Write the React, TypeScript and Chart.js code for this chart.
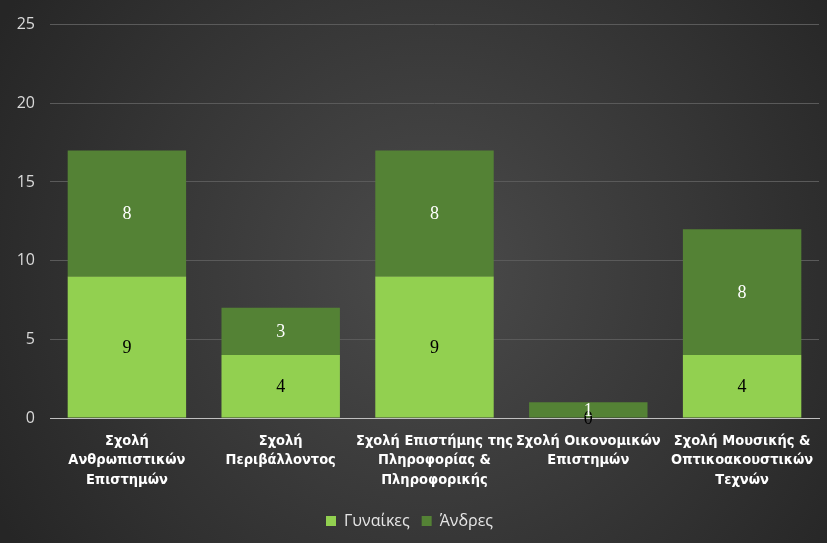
import React, { useEffect, useRef } from "react";
import { Chart, registerables } from "chart.js";

Chart.register(...registerables);

const categories: string[][] = [
  ["Σχολή", "Ανθρωπιστικών", "Επιστημών"],
  ["Σχολή", "Περιβάλλοντος"],
  ["Σχολή Επιστήμης της", "Πληροφορίας &", "Πληροφορικής"],
  ["Σχολή Οικονομικών", "Επιστημών"],
  ["Σχολή Μουσικής &", "Οπτικοακουστικών", "Τεχνών"],
];
const women: number[] = [9, 4, 9, 0, 4];
const men: number[] = [8, 3, 8, 1, 8];
const seriesNames = ["Γυναίκες", "Άνδρες"];
const yTicks: number[] = [0, 5, 10, 15, 20, 25];

const bgPlugin = {
  id: "bg",
  beforeDraw(chart: any) {
    const { ctx, width, height } = chart;
    ctx.save();
    const g = ctx.createRadialGradient(width * 0.52, height * 0.5, 0, width * 0.52, height * 0.5, width * 0.6);
    g.addColorStop(0, "#4b4b4b");
    g.addColorStop(1, "#262626");
    ctx.fillStyle = g;
    ctx.fillRect(0, 0, width, height);
    ctx.restore();
  },
};

const labelPlugin = {
  id: "barLabels",
  afterDatasetsDraw(chart: any) {
    const { ctx } = chart;
    ctx.save();
    ctx.font = '18px "Liberation Serif", "DejaVu Serif", serif';
    ctx.textAlign = "center";
    ctx.textBaseline = "middle";
    chart.data.datasets.forEach((ds: any, di: number) => {
      const meta = chart.getDatasetMeta(di);
      meta.data.forEach((bar: any, i: number) => {
        const v = ds.data[i];
        const y = (bar.y + bar.base) / 2;
        ctx.fillStyle = di === 0 ? "#000000" : "#ffffff";
        ctx.fillText(String(v), bar.x, y + 1);
      });
    });
    ctx.restore();
  },
};

export default function App() {
  const ref = useRef<HTMLCanvasElement>(null);
  useEffect(() => {
    if (!ref.current) return;
    const chart = new Chart(ref.current, {
      type: "bar",
      data: {
        labels: categories,
        datasets: [
          { label: seriesNames[0], data: women, backgroundColor: "#92d050", categoryPercentage: 0.77, barPercentage: 1 },
          { label: seriesNames[1], data: men, backgroundColor: "#548235", categoryPercentage: 0.77, barPercentage: 1 },
        ],
      },
      options: {
        responsive: false,
        animation: false,
        layout: { padding: { top: 15, right: 8, bottom: 4, left: 0 } },
        plugins: {
          tooltip: { enabled: false },
          legend: {
            position: "bottom",
            labels: {
              color: "#e6e6e6",
              boxWidth: 10,
              boxHeight: 10,
              padding: 12,
              font: { family: '"Open Sans", "Noto Sans", sans-serif', size: 16 },
            },
          },
        },
        scales: {
          x: {
            stacked: true,
            grid: { display: false, drawTicks: false },
            border: { display: true, color: "#bfbfbf", width: 1 },
            ticks: {
              color: "#ffffff",
              padding: 13,
              maxRotation: 0,
              autoSkip: false,
              font: { family: '"Liberation Sans Narrow", "DejaVu Sans Condensed", sans-serif', size: 14.5, weight: "bold", lineHeight: 1.35 },
            },
            afterFit: (s: any) => { s.height = 83; },
          },
          y: {
            stacked: true,
            min: 0,
            max: 25,
            afterBuildTicks: (s: any) => { s.ticks = yTicks.map((v) => ({ value: v })); },
            grid: { color: "#5a5a5a", drawTicks: false },
            border: { display: false },
            ticks: {
              color: "#d9d9d9",
              padding: 15,
              font: { family: '"Open Sans", "Noto Sans", sans-serif', size: 16 },
            },
            afterFit: (s: any) => { s.width = 50; },
          },
        },
      },
      plugins: [bgPlugin, labelPlugin],
    });
    return () => chart.destroy();
  }, []);
  return (
    <div style={{ position: "fixed", left: 0, top: 0, width: 827, height: 543 }}>
      <canvas ref={ref} width={827} height={543} style={{ display: "block" }} />
    </div>
  );
}
